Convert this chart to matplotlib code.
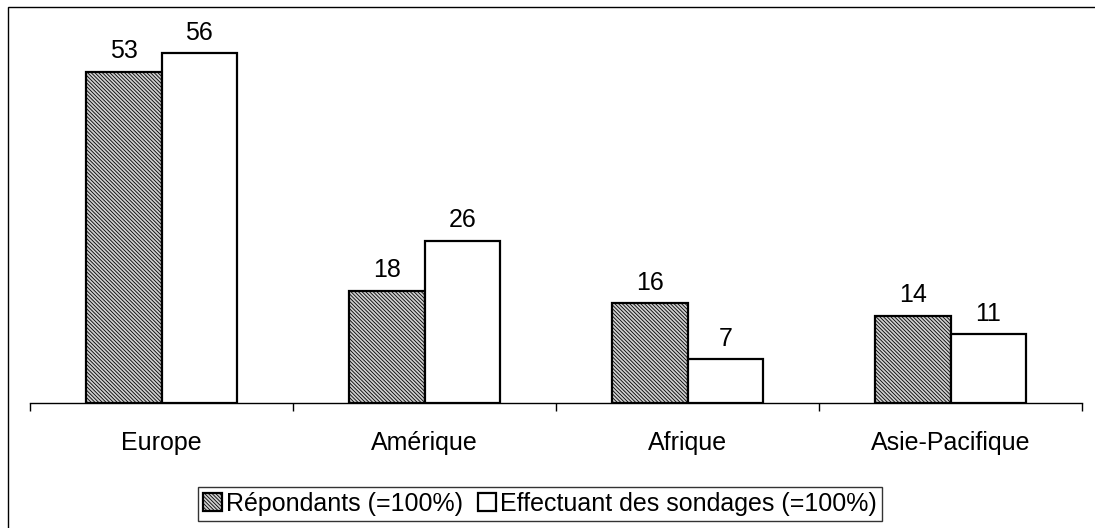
import matplotlib
matplotlib.use("Agg")
import matplotlib.pyplot as plt
from matplotlib.patches import Rectangle
import numpy as np

categories = ["Europe", "Amérique", "Afrique", "Asie-Pacifique"]
repondants = [53, 18, 16, 14]
effectuant = [56, 26, 7, 11]
series_names = ["Répondants (=100%)", "Effectuant des sondages (=100%)"]

plt.rcParams['font.family'] = ['Liberation Sans', 'DejaVu Sans']
plt.rcParams['hatch.linewidth'] = 0.6
plt.rcParams['hatch.color'] = '#686868'

W, H = 1095, 528
FS = 18
fig = plt.figure(figsize=(W/100, H/100), dpi=100)
ax = fig.add_axes([30/W, (H-403)/H, 1052/W, 375/H])

x = np.arange(len(categories))
w = 0.287
b1 = ax.bar(x - w/2, repondants, w, facecolor='#cfcfcf', edgecolor='black',
            linewidth=1.6, hatch='\\\\\\\\\\\\\\\\\\', label=series_names[0])
b2 = ax.bar(x + w/2, effectuant, w, facecolor='white', edgecolor='black',
            linewidth=1.6, label=series_names[1])

for bars, vals in ((b1, repondants), (b2, effectuant)):
    for r, v in zip(bars, vals):
        ax.annotate(str(v), (r.get_x() + r.get_width()/2, v), xytext=(0, 6),
                    textcoords='offset points', ha='center', va='bottom', fontsize=FS)

ax.set_xlim(-0.5, len(categories) - 0.5)
ax.set_ylim(0, 60)
for s in ('top', 'right', 'left'):
    ax.spines[s].set_visible(False)
ax.spines['bottom'].set_linewidth(1.0)
ax.set_yticks([])
ax.set_xticks(x)
ax.set_xticklabels(categories, fontsize=FS)
ax.tick_params(axis='x', which='major', length=0, pad=20)
ax.set_xticks(np.arange(-0.5, len(categories)), minor=True)
ax.tick_params(axis='x', which='minor', length=6, width=1.0, direction='out')

leg = fig.legend(loc='center', bbox_to_anchor=(540/W, (H-504)/H), ncol=2,
                 fontsize=FS, frameon=True, fancybox=False, handlelength=0.75,
                 handleheight=0.75, handletextpad=0.15, columnspacing=0.6,
                 borderpad=0.2, borderaxespad=0, edgecolor='black')
leg.get_frame().set_linewidth(1.0)

fig.patches.append(Rectangle((8/W, -0.1), 1.2, (H-7)/H + 0.1, transform=fig.transFigure,
                             fill=False, edgecolor='black', linewidth=1.0))

fig.savefig("out.png", dpi=100)
